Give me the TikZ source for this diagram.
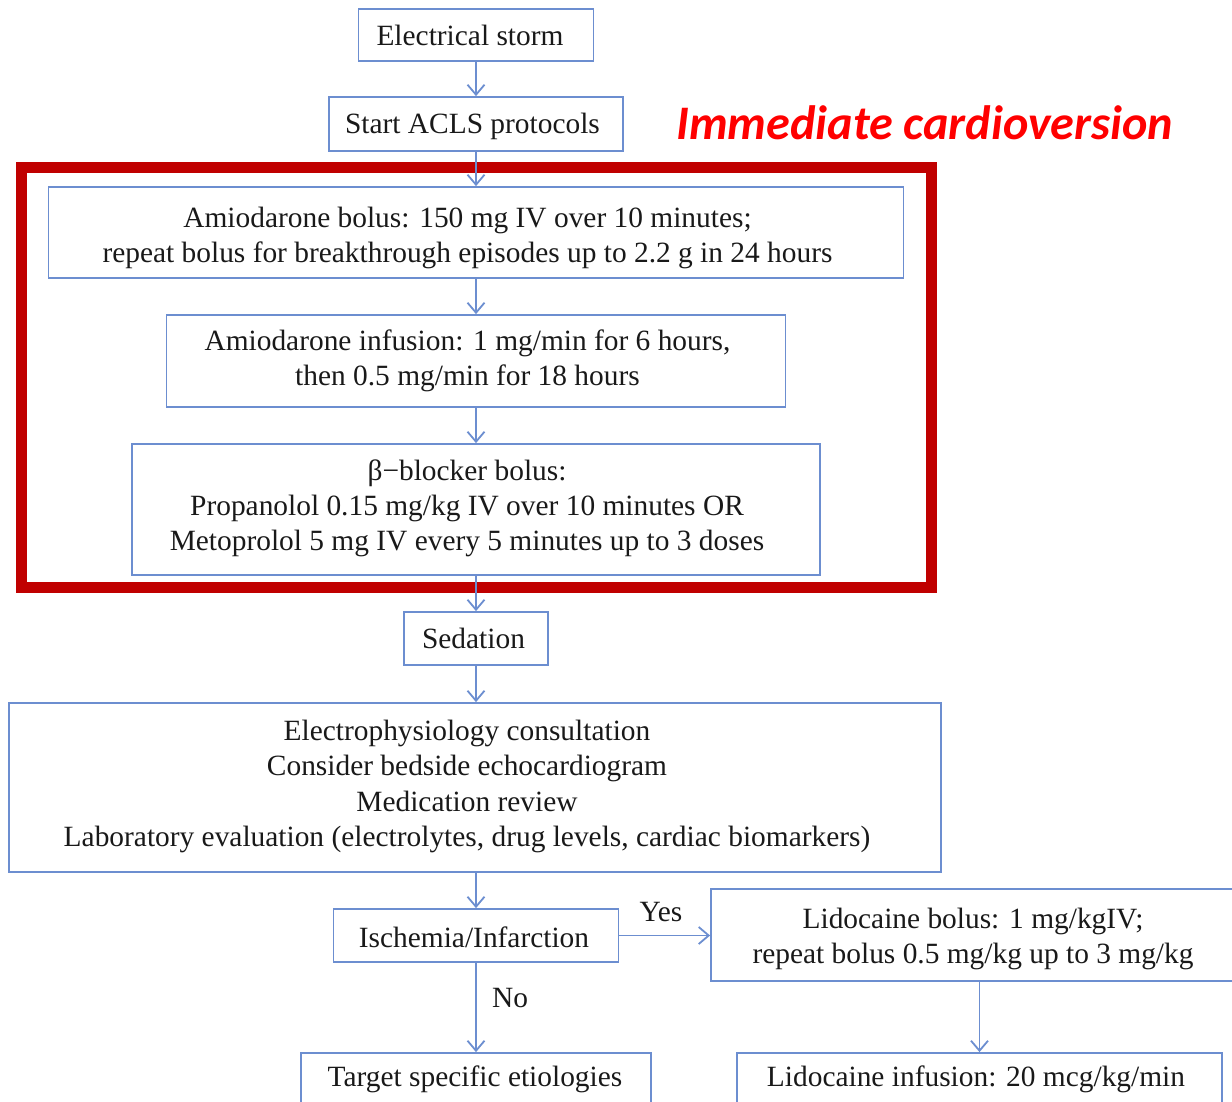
\documentclass[tikz,border=0pt]{standalone}
\usepackage{fontspec}
\setmainfont{Liberation Serif}
\newfontfamily\calibrifont{Carlito}
\usetikzlibrary{arrows.meta}
\definecolor{flowblue}{RGB}{108,142,208}
\definecolor{framered}{RGB}{192,0,0}
\definecolor{notered}{RGB}{255,0,0}
\definecolor{inktext}{RGB}{25,25,25}
\begin{document}
\begin{tikzpicture}[x=1pt,y=-1pt,
  box/.style={draw=flowblue, line width=1.8pt, inner sep=0pt},
  txt/.style={align=center, inner sep=0pt, text=inktext,
    font=\fontsize{29.4}{35.3}\selectfont},
  flow/.style={draw=flowblue, line width=1.8pt,
    -{Straight Barb[length=10pt,width=17pt,line width=1.8pt]}},
  lbl/.style={text=inktext, inner sep=0pt, font=\fontsize{29.4}{35.3}\selectfont}]
\useasboundingbox (0,0) rectangle (1232,1101);
\clip (0,0) rectangle (1232,1101);

% main column: boxes
\node[box, minimum width=235, minimum height=52] (es) at (476,35) {};
\node[box, minimum width=294, minimum height=54] (acls) at (476,124) {};
\node[box, minimum width=855, minimum height=91] (ab) at (476,232.5) {};
\node[box, minimum width=619, minimum height=92] (ai) at (476,361) {};
\node[box, minimum width=688, minimum height=131] (bb) at (476,509.5) {};
\node[box, minimum width=144, minimum height=53] (sed) at (476,638.5) {};
\node[box, minimum width=932, minimum height=169] (ep) at (475,787.5) {};
\node[box, minimum width=285, minimum height=53] (isch) at (476,935.5) {};
\node[box, minimum width=350, minimum height=52] (tgt) at (476,1079) {};

% lidocaine branch: boxes
\node[box, minimum width=524, minimum height=92] (lb) at (973,935) {};
\node[box, minimum width=485, minimum height=52] (li) at (979.5,1079) {};

% box texts
\node[txt] (est) at (470,35) {Electrical storm};
\node[txt] (aclst) at (472.5,126) {Start ACLS protocols};
\node[txt] (abt) at (467.5,238)
  {Amiodarone bolus: 150 mg IV over 10 minutes;\\repeat bolus for breakthrough episodes up to 2.2 g in 24 hours};
\node[txt] (ait) at (467.5,361)
  {Amiodarone infusion: 1 mg/min for 6 hours,\\then 0.5 mg/min for 18 hours};
\node[txt] (bbt) at (467,508.5)
  {β−blocker bolus:\\Propanolol 0.15 mg/kg IV over 10 minutes OR\\Metoprolol 5 mg IV every 5 minutes up to 3 doses};
\node[txt] (sedt) at (473.5,638.5) {Sedation};
\node[txt] (ept) at (467,786.5)
  {Electrophysiology consultation\\Consider bedside echocardiogram\\Medication review\\Laboratory evaluation (electrolytes, drug levels, cardiac biomarkers)};
\node[txt] (ischt) at (474,937.5) {Ischemia/Infarction};
\node[txt] (tgtt) at (475,1079) {Target specific etiologies};
\node[txt] (lbt) at (973,939) {Lidocaine bolus: 1 mg/kgIV;\\repeat bolus 0.5 mg/kg up to 3 mg/kg};
\node[txt] (lit) at (976,1079) {Lidocaine infusion: 20 mcg/kg/min};

% frame around the drug steps
\draw[framered, line width=11pt] (21.5,167.5) rectangle (931.5,587.5);
\node[anchor=base west, inner sep=0pt, text=notered,
  font=\calibrifont\bfseries\itshape\fontsize{48.2}{58}\selectfont] (cv) at (676,139) {Immediate cardioversion};

% connectors
\draw[flow] (es) -- (acls);
\draw[flow] (acls) -- (ab);
\draw[flow] (ab) -- (ai);
\draw[flow] (ai) -- (bb);
\draw[flow] (bb) -- (sed);
\draw[flow] (sed.south) -- (sed.south |- ep.north);
\draw[flow] (ep.south -| isch.north) -- (isch.north);
\draw[flow] (isch.south) -- (isch.south |- tgt.north);
\draw[flow] (isch.east) -- (isch.east -| lb.west);
\draw[flow] (lb.south -| li.north) -- (li.north);

\node[lbl] (yes) at (661,912) {Yes};
\node[lbl] (no) at (510,998) {No};
\end{tikzpicture}
\end{document}
